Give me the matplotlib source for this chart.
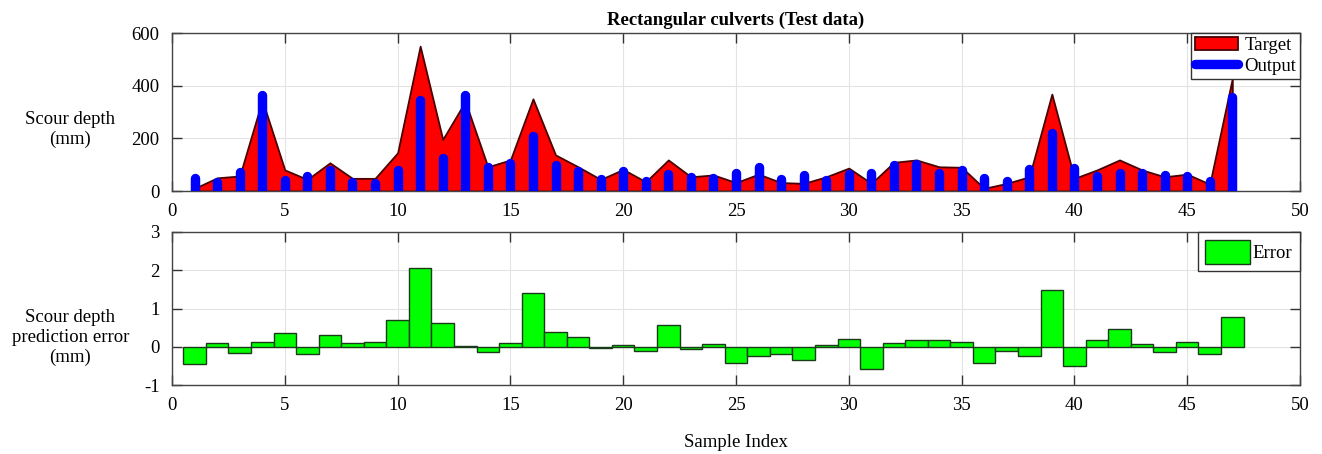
import numpy as np
import matplotlib
matplotlib.use('Agg')
import matplotlib.pyplot as plt
from matplotlib.lines import Line2D
from matplotlib.patches import Patch

plt.rcParams['font.family'] = ['Liberation Serif', 'DejaVu Serif']
plt.rcParams['font.size'] = 13
plt.rcParams['axes.unicode_minus'] = False

# 数据
sample_index = np.arange(1, 48)
target = [10, 50, 57, 345, 80, 44, 107, 48, 48, 145, 550, 196, 340, 92, 118, 350, 137,
          92, 44, 82, 35, 118, 54, 61, 32, 64, 32, 29, 54, 87, 29, 109, 118, 92, 90,
          10, 29, 54, 368, 48, 80, 118, 80, 54, 64, 26, 428]
output = [50, 35, 72, 365, 42, 57, 78, 35, 32, 78, 344, 127, 365, 92, 108, 209, 100,
          76, 44, 76, 38, 63, 54, 51, 70, 92, 47, 61, 40, 63, 67, 99, 102, 70, 78,
          51, 38, 82, 222, 89, 57, 70, 70, 60, 57, 38, 358]
error = [-0.45, 0.10, -0.17, 0.13, 0.36, -0.19, 0.31, 0.10, 0.12, 0.69, 2.05, 0.63,
         0.03, -0.13, 0.10, 1.40, 0.39, 0.25, -0.03, 0.05, -0.10, 0.57, -0.06, 0.07,
         -0.43, -0.23, -0.18, -0.34, 0.04, 0.21, -0.58, 0.10, 0.17, 0.17, 0.12, -0.43,
         -0.10, -0.23, 1.49, -0.50, 0.18, 0.47, 0.08, -0.13, 0.12, -0.18, 0.79]
xticks = list(range(0, 51, 5))

fig = plt.figure(figsize=(13.22, 4.54), dpi=100)
W, H = 1322, 454
ax1 = fig.add_axes([172 / W, 1 - 191 / H, 1128 / W, 158 / H])
ax2 = fig.add_axes([172 / W, 1 - 385 / H, 1128 / W, 153 / H])

# 上图：目标值面积 + 输出值柱
ax1.fill_between(sample_index, target, 0, facecolor='#ff0000', edgecolor='#4a0000',
                 linewidth=1.3, zorder=2)
bars = ax1.vlines(sample_index, 0, output, colors='#0000ff', linewidth=6.8, zorder=3)
bars.set_capstyle('round')
ax1.set_xlim(0, 50)
ax1.set_ylim(0, 600)
ax1.set_yticks([0, 200, 400, 600])
ax1.set_title('Rectangular culverts (Test data)', fontweight='bold', fontsize=13.5, pad=6)
ax1.set_ylabel('Scour depth\n(mm)', rotation=0, ha='center', va='center', fontsize=13.5)
ax1.yaxis.set_label_coords(-0.09, 0.39)
handles = [Patch(facecolor='#ff0000', edgecolor='#4a0000', linewidth=1.3),
           Line2D([], [], color='#0000ff', linewidth=6.8, solid_capstyle='round')]
leg1 = ax1.legend(handles, ['Target', 'Output'], loc='upper right', fancybox=False,
                  edgecolor='#333333', framealpha=1, borderaxespad=0, fontsize=13.5,
                  handlelength=2.3, handletextpad=0.35, borderpad=0.2, labelspacing=0.2)
leg1.get_frame().set_linewidth(1)

# 下图：误差柱
ax2.bar(sample_index, error, width=1.0, color='#00ff00', edgecolor='#1a3a1a',
        linewidth=1, zorder=2)
ax2.set_xlim(0, 50)
ax2.set_ylim(-1, 3)
ax2.set_yticks([-1, 0, 1, 2, 3])
ax2.set_ylabel('Scour depth\nprediction error\n(mm)', rotation=0, ha='center',
               va='center', fontsize=13.5)
ax2.yaxis.set_label_coords(-0.09, 0.31)
ax2.set_xlabel('Sample Index', fontsize=13.5, labelpad=14)
leg2 = ax2.legend([Patch(facecolor='#00ff00', edgecolor='#1a3a1a', linewidth=1)],
                  ['Error'], loc='upper right', fancybox=False, edgecolor='#333333',
                  framealpha=1, borderaxespad=0, fontsize=13.5, handlelength=2.4,
                  handleheight=1.6, handletextpad=0.15, borderpad=0.4)
leg2.get_frame().set_linewidth(1)

for ax in (ax1, ax2):
    ax.set_xticks(xticks)
    ax.grid(True, color='#e3e3e3', linewidth=0.8, zorder=0)
    ax.set_axisbelow(True)
    ax.tick_params(direction='in', length=7, width=1, top=True, right=True,
                   colors='#333333', labelcolor='black', pad=9, labelsize=13.5)
    for s in ax.spines.values():
        s.set_color('#444444')
        s.set_linewidth(1)

fig.savefig('out.png', dpi=100)
